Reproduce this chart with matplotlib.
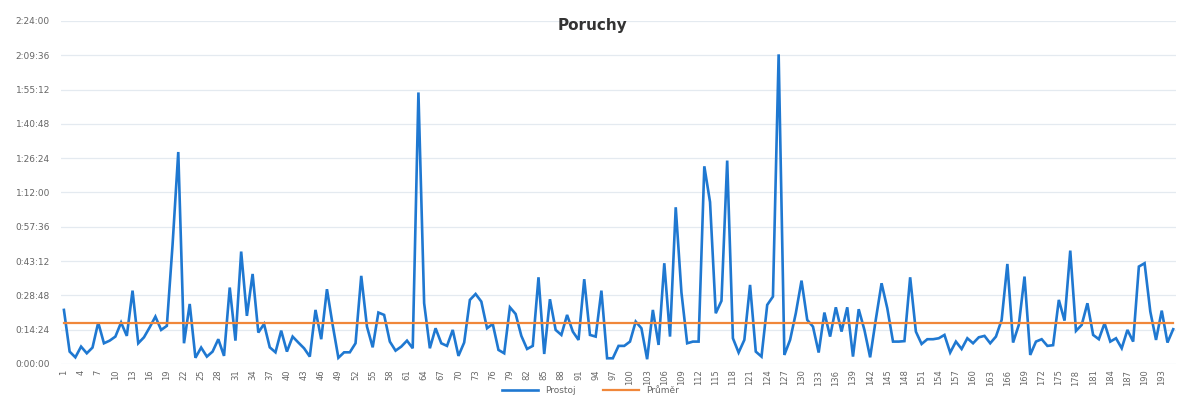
import matplotlib
matplotlib.use("Agg")
import matplotlib.pyplot as plt
from matplotlib.ticker import FixedLocator, FuncFormatter

# downtime per failure, in minutes
prostoj = [
    22.7, 5.2, 2.8, 7.3, 4.5, 6.9, 17.4, 8.7, 9.8, 11.5,
    17.4, 11.8, 30.8, 8.7, 11.2, 15.4, 19.9, 14.3, 16.0, 50.0,
    89.0, 8.7, 25.2, 2.6, 6.9, 3.1, 5.2, 10.4, 3.4, 32.1,
    9.8, 47.2, 20.2, 37.8, 13.2, 16.8, 7.0, 4.9, 14.0, 5.2,
    11.5, 9.0, 6.6, 3.1, 22.7, 10.4, 31.4, 16.4, 2.6, 4.9,
    4.9, 8.7, 37.0, 15.7, 7.0, 21.6, 20.6, 9.4, 5.6, 7.3,
    9.8, 6.6, 114.0, 25.5, 6.6, 15.0, 8.7, 7.6, 14.3, 3.4,
    9.0, 26.9, 29.4, 26.2, 15.0, 16.8, 5.9, 4.5, 23.8, 21.0,
    11.8, 6.3, 7.6, 36.4, 4.2, 27.2, 14.3, 12.2, 20.6, 13.6,
    10.1, 35.6, 12.2, 11.5, 30.8, 2.4, 2.4, 7.6, 7.6, 9.4,
    17.8, 15.0, 2.0, 22.7, 8.0, 42.3, 11.5, 65.8, 30.0, 8.7,
    9.4, 9.4, 83.0, 68.0, 21.3, 26.5, 85.4, 10.8, 4.8, 10.1,
    33.2, 5.2, 3.1, 24.8, 28.3, 130.0, 3.8, 10.1, 21.3, 35.0,
    18.5, 15.7, 4.8, 21.6, 11.5, 23.8, 13.6, 23.8, 3.1, 23.0,
    14.3, 2.8, 18.8, 33.9, 23.4, 9.4, 9.4, 9.6, 36.4, 13.6,
    8.4, 10.4, 10.4, 10.8, 12.2, 4.8, 9.4, 6.3, 10.8, 8.7,
    11.2, 11.8, 8.7, 11.5, 18.5, 42.0, 9.0, 16.4, 36.7, 3.8,
    9.4, 10.4, 7.6, 7.9, 26.9, 18.2, 47.6, 13.9, 16.4, 25.5,
    12.2, 10.4, 17.1, 9.4, 10.8, 6.6, 14.3, 9.4, 40.9, 42.3,
    22.0, 10.1, 22.4, 9.0, 14.6,
]
poradi = list(range(1, len(prostoj) + 1))
prumer = 17.0  # average line, minutes
y_ticks = [0, 14.4, 28.8, 43.2, 57.6, 72.0, 86.4, 100.8, 115.2, 129.6, 144.0]
x_ticks = poradi[::3]


def hms(minutes, _pos=None):
    secs = int(round(minutes * 60))
    return f"{secs // 3600}:{secs % 3600 // 60:02d}:{secs % 60:02d}"


fig = plt.figure(figsize=(11.81, 4.03), dpi=100)
ax = fig.add_axes([0.0517, 0.0968, 0.9441, 0.8511])

ax.plot(poradi, prostoj, color="#1f78d1", linewidth=1.9, label="Prostoj", solid_joinstyle="miter")
ax.plot(poradi, [prumer] * len(poradi), color="#f0873a", linewidth=1.6, label="Průměr")

ax.set_xlim(0.5, len(poradi) + 0.5)
ax.set_ylim(0, 144)
ax.yaxis.set_major_locator(FixedLocator(y_ticks))
ax.yaxis.set_major_formatter(FuncFormatter(hms))
ax.set_xticks(x_ticks)
ax.set_xticklabels([str(v) for v in x_ticks], rotation=90, fontsize=6, color="#666666")
ax.tick_params(axis="y", labelsize=6.5, labelcolor="#666666", length=0, pad=8)
ax.tick_params(axis="x", length=0, pad=4)
ax.grid(axis="y", color="#e4eaf0", linewidth=0.9)
ax.set_axisbelow(True)
for side in ax.spines.values():
    side.set_visible(False)

fig.suptitle("Poruchy", x=0.502, y=0.955, fontsize=11, fontweight="bold", color="#333333")
fig.legend(loc="lower center", bbox_to_anchor=(0.5, 0.0), ncol=2, frameon=False,
           fontsize=6.5, handlelength=4, columnspacing=3, labelcolor="#666666")

fig.savefig("out.png", dpi=100, facecolor="white")
